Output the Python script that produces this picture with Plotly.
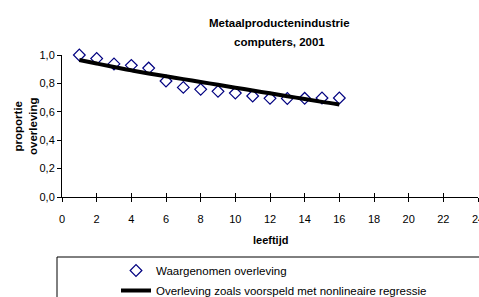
import plotly.graph_objects as go

leeftijd = [1, 2, 3, 4, 5, 6, 7, 8, 9, 10, 11, 12, 13, 14, 15, 16]
waargenomen = [1.0, 0.975, 0.937, 0.927, 0.908, 0.817, 0.772, 0.758, 0.744, 0.732, 0.711, 0.695, 0.694, 0.695, 0.697, 0.697]
voorspeld = [0.965, 0.94, 0.915, 0.892, 0.87, 0.85, 0.83, 0.81, 0.79, 0.77, 0.75, 0.73, 0.71, 0.69, 0.67, 0.652]
x_ticks = list(range(0, 25, 2))
y_ticks = [0.0, 0.2, 0.4, 0.6, 0.8, 1.0]

FONT = "Liberation Sans, Arial, sans-serif"

fig = go.Figure()
fig.add_trace(go.Scatter(
    x=leeftijd, y=waargenomen, mode="markers", name="Waargenomen overleving",
    marker=dict(symbol="diamond-open", size=9, color="#000080", line=dict(width=1.2, color="#000080")),
    cliponaxis=False, legendgroup="a",
))
fig.add_trace(go.Scatter(
    x=leeftijd, y=voorspeld, mode="lines", name="Overleving zoals voorspeld met nonlineaire regressie",
    line=dict(color="black", width=4, shape="spline"),
    cliponaxis=False, legendgroup="b",
))
fig.add_trace(go.Scatter(x=[0], y=[0], xaxis="x2", showlegend=False, hoverinfo="skip",
                         mode="markers", marker=dict(opacity=0)))

fig.update_layout(
    width=479, height=297,
    margin=dict(l=62, r=1, t=55, b=100, autoexpand=False),
    paper_bgcolor="white", plot_bgcolor="white",
    separators=",.",
    font=dict(family=FONT, size=11, color="black"),
    showlegend=True,
    legend=dict(x=(116 - 62) / 416, xanchor="left", y=(197 - 256) / 142, yanchor="top",
                bgcolor="rgba(0,0,0,0)", borderwidth=0, traceorder="grouped", tracegroupgap=1,
                font=dict(family=FONT, size=11.5, color="black")),
    xaxis=dict(range=[0, 24], tickvals=x_ticks, ticks="outside", ticklen=4, tickcolor="black",
               showline=True, linecolor="black", linewidth=1, showgrid=False, zeroline=False,
               tickfont=dict(size=11), ticklabelstandoff=8, ticklabeloverflow="allow"),
    xaxis2=dict(range=[0, 24], tickvals=x_ticks, ticks="inside", ticklen=4, tickcolor="black",
                overlaying="x", anchor="y", side="bottom", showticklabels=False,
                showline=False, showgrid=False, zeroline=False),
    yaxis=dict(range=[0, 1], tickvals=y_ticks, tickformat=".1f", ticks="outside", ticklen=4,
               tickcolor="black", showline=True, linecolor="black", linewidth=1,
               showgrid=False, zeroline=False, tickfont=dict(size=11)),
    shapes=[dict(type="rect", xref="paper", yref="paper",
                 x0=(57 - 62) / 416, x1=1.2, y0=-1.5, y1=(197 - 257) / 142,
                 line=dict(color="black", width=1), fillcolor="rgba(0,0,0,0)")],
    annotations=[
        dict(text="<b>Metaalproductenindustrie</b>", xref="paper", yref="paper",
             x=(279 - 62) / 416, y=(197 - 23.5) / 142, xanchor="center", yanchor="middle",
             showarrow=False, font=dict(size=11.5, family=FONT)),
        dict(text="<b>computers, 2001</b>", xref="paper", yref="paper",
             x=(279 - 62) / 416, y=(197 - 41.7) / 142, xanchor="center", yanchor="middle",
             showarrow=False, font=dict(size=11.5, family=FONT)),
        dict(text="<b>proportie<br>overleving</b>", xref="paper", yref="paper", textangle=-90,
             x=(25 - 62) / 416, y=(197 - 126) / 142, xanchor="center", yanchor="middle",
             showarrow=False, font=dict(size=11.5, family=FONT)),
        dict(text="<b>leeftijd</b>", xref="paper", yref="paper",
             x=(270.7 - 62) / 416, y=(197 - 240) / 142, xanchor="center", yanchor="middle",
             showarrow=False, font=dict(size=11, family=FONT)),
    ],
)

fig.write_html("out.html", config={"displayModeBar": False},
               post_script="document.body.style.margin='0';document.body.style.overflow='hidden';")
